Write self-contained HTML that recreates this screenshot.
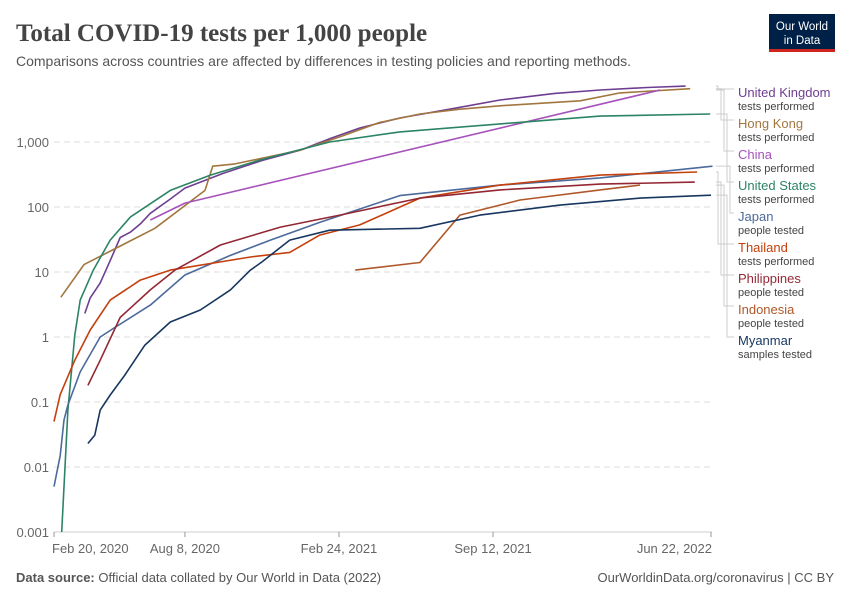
<!DOCTYPE html>
<html><head><meta charset="utf-8"><style>
body{margin:0;background:#fff;font-family:"Liberation Sans",sans-serif}
svg text{font-family:"Liberation Sans",sans-serif}
</style></head><body>
<svg id="chart" width="850" height="600" xmlns="http://www.w3.org/2000/svg">
<text x="16" y="41" font-size="25" font-weight="bold" fill="#444" style="font-family:'Liberation Serif',serif">Total COVID-19 tests per 1,000 people</text>
<text x="16" y="66" font-size="14" fill="#555">Comparisons across countries are affected by differences in testing policies and reporting methods.</text>
<g><rect x="769" y="14" width="66" height="38" fill="#002147"/><rect x="769" y="49" width="66" height="3" fill="#ce261e"/>
<text x="802" y="30" font-size="11.5" fill="#fff" text-anchor="middle">Our World</text><text x="802" y="44" font-size="11.5" fill="#fff" text-anchor="middle">in Data</text></g>
<g id="grid"></g><g id="lines"></g><g id="legend"></g>
<text x="16" y="582" font-size="13" fill="#555"><tspan font-weight="bold">Data source:</tspan> Official data collated by Our World in Data (2022)</text>
<text x="834" y="582" font-size="13" fill="#555" text-anchor="end">OurWorldinData.org/coronavirus | CC BY</text>
</svg>
<script>
const yTicks=[0.001,0.01,0.1,1,10,100,1000];
const yTickLabels=["0.001","0.01","0.1","1","10","100","1,000"];
const xTickDays=[0,170,370,570,853];
const xTickLabels=["Feb 20, 2020","Aug 8, 2020","Feb 24, 2021","Sep 12, 2021","Jun 22, 2022"];
const names=["United Kingdom","Hong Kong","China","United States","Japan","Thailand","Philippines","Indonesia","Myanmar"];
const subs=["tests performed","tests performed","tests performed","tests performed","people tested","tests performed","people tested","people tested","samples tested"];
const colors=["#6d3e91","#a2773f","#a652ba","#2c8465","#4c6a9c","#c4400c","#932834","#b0582a","#18375f"];
const ukDays=[40,47,60,73,86,99,112,125,150,170,220,270,320,360,397,449,520,579,650,709,770,820];
const ukVals=[2.3,4,6.8,15,34,41,55,80,130,195,330,520,750,1150,1640,2340,3300,4430,5600,6310,6900,7240];
const hkDays=[9,39,131,196,206,235,320,371,423,475,527,579,683,735,826];
const hkVals=[4.1,13,47,180,425,460,750,1200,2000,2700,3200,3600,4300,5700,6600];
const cnDays=[125,170,787];
const cnVals=[63,115,6300];
const usDays=[10,18,27,34,51,73,99,151,203,268,358,449,579,709,852];
const usVals=[0.001,0.075,1.07,3.7,10.7,31,70,180,310,530,1000,1430,1900,2500,2700];
const jpDays=[0,8,13,18,34,60,79,125,170,229,281,345,449,579,709,855];
const jpVals=[0.005,0.015,0.053,0.09,0.29,1.0,1.4,3.1,9,18,31,58,150,217,280,425];
const thDays=[0,8,27,47,73,112,151,255,306,345,397,475,579,709,835];
const thVals=[0.05,0.13,0.44,1.28,3.7,7.5,10.7,17,20,37,53,137,217,310,345];
const phDays=[44,60,86,125,157,216,294,371,475,579,709,832];
const phVals=[0.18,0.44,2,5.3,10.7,26,49,75,137,183,225,242];
const idDays=[391,475,527,605,709,761];
const idVals=[10.7,14,75,128,183,217];
const mmDays=[44,53,60,73,92,118,151,190,229,255,270,306,358,475,553,657,761,853];
const mmVals=[0.023,0.031,0.075,0.128,0.26,0.75,1.7,2.6,5.3,10.7,14.3,31,44,47,75,107,137,152];
const seriesDays=[ukDays,hkDays,cnDays,usDays,jpDays,thDays,phDays,idDays,mmDays];
const seriesVals=[ukVals,hkVals,cnVals,usVals,jpVals,thVals,phVals,idVals,mmVals];
const NS="http://www.w3.org/2000/svg";
const X=d=>54+d*(657/853);
const Y=v=>337-Math.log10(v)*65;
function mk(t,a,p){const e=document.createElementNS(NS,t);for(const k in a)e.setAttribute(k,a[k]);p.appendChild(e);return e;}
const grid=document.getElementById('grid');
yTicks.forEach((v,i)=>{
 const l=mk('line',{x1:54,x2:712,y1:Y(v),y2:Y(v),stroke:'#ddd','stroke-dasharray':'6,4'},grid);
 
 
 const t=mk('text',{x:49,y:Y(v)+5,'font-size':13,fill:'#666','text-anchor':'end'},grid);
 t.textContent=yTickLabels[i];
 
 
});
mk('line',{x1:54,x2:712,y1:532,y2:532,stroke:'#ccc'},grid);
xTickDays.forEach((d,i)=>{
 mk('line',{x1:X(d),x2:X(d),y1:532,y2:537,stroke:'#999'},grid);
 const t=mk('text',{x:X(d),y:553,'font-size':13,fill:'#666','text-anchor':i==0?'start':(i==4?'end':'middle')},grid);
 if(i==0)t.setAttribute('x',52);
 if(i==4)t.setAttribute('x',712);
 t.textContent=xTickLabels[i];
 
 
});
const lines=document.getElementById('lines');
seriesDays.forEach((ds,s)=>{
 const pts=ds.map((d,i)=>X(d).toFixed(1)+','+Y(seriesVals[s][i]).toFixed(1)).join(' ');
 const p=mk('polyline',{points:pts,fill:'none',stroke:colors[s],'stroke-width':1.6,'stroke-linejoin':'round'},lines);
 
 
});
const lg=document.getElementById('legend');
names.forEach((n,i)=>{
 const ly=93+i*31;
 const vs=seriesVals[i];
 const ey=Y(vs[vs.length-1]);
 const bx=716+(i%5)*3;
 mk('polyline',{points:`${716},${ey} ${bx+2},${ey} ${bx+2},${ly-4} ${734},${ly-4}`,fill:'none',stroke:'#ccc','stroke-width':1},lg);
 const g=mk('g',{},lg);
 
 
 const t=mk('text',{x:738,y:ly+4,'font-size':13,fill:colors[i]},g);t.textContent=n;
 const t2=mk('text',{x:738,y:ly+17,'font-size':11,fill:'#444'},g);t2.textContent=subs[i];
});
</script>
</body></html>
